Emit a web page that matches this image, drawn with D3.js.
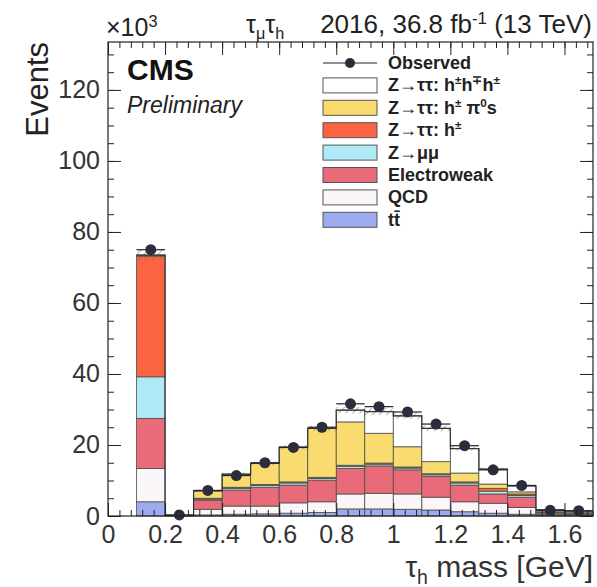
<!DOCTYPE html>
<html>
<head>
<meta charset="utf-8">
<script src="https://cdn.jsdelivr.net/npm/d3@7"></script>
<style>
  body { margin: 0; background: #fff; }
  text { font-family: "Liberation Sans", Arial, Helvetica, sans-serif; }
</style>
</head>
<body>
<div id="chart"></div>
<script>
// bin edges of the tau_h mass histogram [GeV]
var binEdges = [0.1, 0.2, 0.3, 0.4, 0.5, 0.6, 0.7, 0.8, 0.9, 1.0, 1.1, 1.2, 1.3, 1.4, 1.5, 1.6, 1.7];

// per-bin yields, in thousands of events (stack order bottom -> top)
var ttbar        = [4.0, 0.02, 0.3, 0.5, 0.6, 0.8, 1.0, 2.0, 2.0, 1.9, 1.7, 1.2, 0.8, 0.5, 0.2, 0.1];
var qcd          = [9.4, 0.05, 1.6, 2.3, 2.2, 2.9, 3.0, 4.2, 4.4, 4.3, 3.6, 2.8, 2.8, 1.9, 0.3, 0.2];
var electroweak  = [14.1, 0.05, 2.6, 4.5, 5.3, 5.0, 6.1, 7.2, 7.7, 6.8, 5.8, 4.7, 2.6, 2.9, 0.4, 0.3];
var zmumu        = [11.7, 0.02, 0.3, 0.5, 0.5, 0.6, 0.5, 0.6, 0.5, 0.5, 0.5, 0.6, 0.8, 0.5, 0.1, 0.05];
var ztt1prong    = [34.0, 0.01, 0.2, 0.3, 0.3, 0.3, 0.3, 0.3, 0.3, 0.3, 0.3, 0.3, 0.8, 0.4, 0.1, 0.05];
var ztt1prongPi0 = [0.3, 0.02, 2.1, 3.7, 5.9, 9.8, 13.8, 12.2, 8.4, 5.7, 3.4, 2.5, 1.2, 0.6, 0.1, 0.05];
var ztt3prong    = [0.0, 0.0, 0.0, 0.0, 0.0, 0.0, 0.0, 3.3, 6.1, 8.7, 9.4, 6.9, 4.2, 1.7, 0.5, 0.4];
var uncertainty  = [1.5, 0.0, 0.3, 0.4, 0.5, 0.6, 0.7, 0.9, 1.0, 0.9, 0.8, 0.6, 0.4, 0.3, 0.1, 0.1];
var observed     = [75.0, 0.3, 7.2, 11.4, 15.0, 19.3, 25.0, 31.6, 30.8, 29.3, 25.9, 19.8, 13.0, 8.6, 1.6, 1.5];

var xTicks = [0, 0.2, 0.4, 0.6, 0.8, 1, 1.2, 1.4, 1.6];
var yTicks = [0, 20, 40, 60, 80, 100, 120];

var seriesKeys = ['tt', 'qcd', 'ewk', 'zmm', 'h1', 'h1pi0', 'h3'];
var seriesColors = ['#9eabef', '#fbf6f9', '#e96a79', '#b0e9f6', '#fa6443', '#fadb70', '#ffffff'];

// legend rows, top -> bottom (parts: [text, 'sup'|'sub'|null])
var legendRows = [
  {key: 'obs',   parts: [['Observed']]},
  {key: 'h3',    parts: [['Z\u2192\u03c4\u03c4: h'], ['\u00b1', 'sup'], ['h'], ['\u2213', 'sup'], ['h'], ['\u00b1', 'sup']]},
  {key: 'h1pi0', parts: [['Z\u2192\u03c4\u03c4: h'], ['\u00b1', 'sup'], ['  \u03c0'], ['0', 'sup'], ['s']]},
  {key: 'h1',    parts: [['Z\u2192\u03c4\u03c4: h'], ['\u00b1', 'sup']]},
  {key: 'zmm',   parts: [['Z\u2192\u03bc\u03bc']]},
  {key: 'ewk',   parts: [['Electroweak']]},
  {key: 'qcd',   parts: [['QCD']]},
  {key: 'tt',    parts: [['tt\u0304']]}
];

var margin = {top: 42, right: 4, bottom: 71, left: 108},
    width = 597 - margin.left - margin.right,
    height = 587 - margin.top - margin.bottom;

var svg = d3.select('#chart')
            .append('svg')
            .attr('width', 597)
            .attr('height', 587);

var defs = svg.append('defs');
var hatch = defs.append('pattern')
                .attr('id', 'hatch')
                .attr('patternUnits', 'userSpaceOnUse')
                .attr('width', 5)
                .attr('height', 5)
                .attr('patternTransform', 'rotate(45)');
hatch.append('line')
     .attr('x1', 0).attr('y1', 0).attr('x2', 0).attr('y2', 5)
     .attr('stroke', '#666')
     .attr('stroke-width', 1);

var g = svg.append('g')
           .attr('transform', 'translate(' + margin.left + ',' + margin.top + ')');

var x = d3.scaleLinear().domain([0, 1.7]).range([0, width]);
var y = d3.scaleLinear().domain([0, 133.5]).range([height, 0]);

// build table for the stack
var table = binEdges.slice(0, -1).map(function(lo, i) {
  return {lo: lo, hi: binEdges[i + 1],
          tt: ttbar[i], qcd: qcd[i], ewk: electroweak[i], zmm: zmumu[i],
          h1: ztt1prong[i], h1pi0: ztt1prongPi0[i], h3: ztt3prong[i]};
});

var stack = d3.stack().keys(seriesKeys);
var layers = stack(table);

layers.forEach(function(layer, li) {
  g.append('g')
    .selectAll('rect')
    .data(layer)
    .enter().append('rect')
      .attr('x', function(d) { return x(d.data.lo); })
      .attr('width', function(d) { return x(d.data.hi) - x(d.data.lo); })
      .attr('y', function(d) { return y(d[1]); })
      .attr('height', function(d) { return y(d[0]) - y(d[1]); })
      .attr('fill', seriesColors[li])
      .attr('stroke', '#4a4f48')
      .attr('stroke-width', 0.8);
});

// uncertainty band around total
var totals = layers[layers.length - 1];
g.append('g')
  .selectAll('rect')
  .data(totals)
  .enter().append('rect')
    .attr('x', function(d) { return x(d.data.lo); })
    .attr('width', function(d) { return x(d.data.hi) - x(d.data.lo); })
    .attr('y', function(d, i) { return y(d[1] + uncertainty[i]); })
    .attr('height', function(d, i) { return y(d[1] - uncertainty[i]) - y(d[1] + uncertainty[i]); })
    .attr('fill', 'url(#hatch)');

// outline of total
var stepLine = d3.line()
                 .curve(d3.curveStepAfter)
                 .x(function(d) { return x(d[0]); })
                 .y(function(d) { return y(d[1]); });
var stepPts = totals.map(function(d) { return [d.data.lo, d[1]]; });
stepPts.push([binEdges[binEdges.length - 1], totals[totals.length - 1][1]]);
g.append('path')
  .attr('d', stepLine(stepPts))
  .attr('fill', 'none')
  .attr('stroke', '#333')
  .attr('stroke-width', 1.2);

// observed data
var obs = g.append('g');
obs.selectAll('line')
   .data(observed)
   .enter().append('line')
     .attr('x1', function(d, i) { return x(binEdges[i]); })
     .attr('x2', function(d, i) { return x(binEdges[i + 1]); })
     .attr('y1', function(d) { return y(d); })
     .attr('y2', function(d) { return y(d); })
     .attr('stroke', '#222')
     .attr('stroke-width', 1.2);
obs.selectAll('circle')
   .data(observed)
   .enter().append('circle')
     .attr('cx', function(d, i) { return x((binEdges[i] + binEdges[i + 1]) / 2); })
     .attr('cy', function(d) { return y(d); })
     .attr('r', 5.5)
     .attr('fill', '#2c2c3c');

// axes
var fmt = function(d) { return String(+d.toFixed(1)); };

var x_axis = d3.axisBottom(x).tickValues(xTicks).tickFormat(fmt)
               .tickSizeInner(-13).tickSizeOuter(0).tickPadding(9);
var x_minor = d3.axisBottom(x).tickValues(d3.range(0, 1.7001, 0.04)).tickFormat('')
                .tickSizeInner(-6).tickSizeOuter(0);
var y_axis = d3.axisLeft(y).tickValues(yTicks).tickFormat(fmt)
               .tickSizeInner(-13).tickSizeOuter(0).tickPadding(8);
var y_minor = d3.axisLeft(y).tickValues(d3.range(0, 133.5, 5)).tickFormat('')
                .tickSizeInner(-6).tickSizeOuter(0);

function styleAxis(sel) {
  sel.selectAll('text').attr('font-size', 25).attr('fill', '#333')
     .attr('font-family', '"Liberation Sans", Arial, sans-serif');
  sel.selectAll('line').attr('stroke', '#222');
  sel.select('.domain').remove();
}

g.append('g').attr('transform', 'translate(0,' + height + ')').call(x_axis).call(styleAxis);
g.append('g').attr('transform', 'translate(0,' + height + ')').call(x_minor).call(styleAxis);
g.append('g').call(y_axis).call(styleAxis);
g.append('g').call(y_minor).call(styleAxis);
g.append('g').call(d3.axisTop(x).tickValues(xTicks).tickFormat('').tickSizeInner(-13).tickSizeOuter(0)).call(styleAxis);
g.append('g').call(d3.axisTop(x).tickValues(d3.range(0, 1.7001, 0.04)).tickFormat('').tickSizeInner(-6).tickSizeOuter(0)).call(styleAxis);
g.append('g').attr('transform', 'translate(' + width + ',0)')
  .call(d3.axisRight(y).tickValues(yTicks).tickFormat('').tickSizeInner(-13).tickSizeOuter(0)).call(styleAxis);
g.append('g').attr('transform', 'translate(' + width + ',0)')
  .call(d3.axisRight(y).tickValues(d3.range(0, 133.5, 5)).tickFormat('').tickSizeInner(-6).tickSizeOuter(0)).call(styleAxis);

// frame
g.append('rect')
  .attr('width', width).attr('height', height)
  .attr('fill', 'none').attr('stroke', '#222').attr('stroke-width', 1.2);

// text helper with sub/superscripts
function richText(sel, parts, size) {
  parts.forEach(function(p) {
    var t = sel.append('tspan').text(p[0]);
    if (p[1] === 'sup') {
      t.attr('font-size', size * 0.65).attr('baseline-shift', '55%');
    } else if (p[1] === 'sub') {
      t.attr('font-size', size * 0.65).attr('baseline-shift', '-35%');
    }
  });
}

// axis titles
svg.append('text')
   .attr('transform', 'translate(48,' + margin.top + ') rotate(-90)')
   .attr('text-anchor', 'end')
   .attr('font-size', 31)
   .attr('fill', '#222')
   .text('Events');

svg.append('text')
   .attr('x', margin.left + width)
   .attr('y', 577)
   .attr('text-anchor', 'end')
   .attr('font-size', 30)
   .attr('fill', '#333')
   .call(richText, [['\u03c4'], ['h', 'sub'], [' mass [GeV]']], 30);

svg.append('text')
   .attr('x', margin.left - 2)
   .attr('y', 36)
   .attr('font-size', 25)
   .attr('fill', '#222')
   .call(richText, [['\u00d710'], ['3', 'sup']], 25);

svg.append('text')
   .attr('x', 246)
   .attr('y', 33)
   .attr('font-size', 25)
   .attr('fill', '#222')
   .call(richText, [['\u03c4'], ['\u03bc', 'sub'], ['\u03c4'], ['h', 'sub']], 25);

svg.append('text')
   .attr('x', 592)
   .attr('y', 33)
   .attr('text-anchor', 'end')
   .attr('font-size', 26)
   .attr('fill', '#222')
   .call(richText, [['2016, 36.8 fb'], ['-1', 'sup'], [' (13 TeV)']], 26);

svg.append('text')
   .attr('x', 127).attr('y', 80)
   .attr('font-size', 30).attr('font-weight', 'bold').attr('fill', '#111')
   .text('CMS');

svg.append('text')
   .attr('x', 127).attr('y', 113)
   .attr('font-size', 23).attr('font-style', 'italic').attr('fill', '#222')
   .text('Preliminary');

// legend
var legend = svg.append('g').attr('transform', 'translate(323,63)');
legendRows.forEach(function(row, i) {
  var ly = i * 22.4;
  var item = legend.append('g').attr('transform', 'translate(0,' + ly + ')');
  if (row.key === 'obs') {
    item.append('line').attr('x1', 0).attr('x2', 54).attr('y1', 0).attr('y2', 0)
        .attr('stroke', '#222').attr('stroke-width', 1.2);
    item.append('circle').attr('cx', 27).attr('cy', 0).attr('r', 5).attr('fill', '#2c2c3c');
  } else {
    item.append('rect').attr('x', 0).attr('y', -7.5).attr('width', 54).attr('height', 15)
        .attr('fill', seriesColors[seriesKeys.indexOf(row.key)])
        .attr('stroke', '#555').attr('stroke-width', 1);
  }
  item.append('text')
      .attr('x', 65).attr('y', 6)
      .attr('font-size', 18).attr('font-weight', 'bold').attr('fill', '#222')
      .call(richText, row.parts, 18);
});
</script>
</body>
</html>
